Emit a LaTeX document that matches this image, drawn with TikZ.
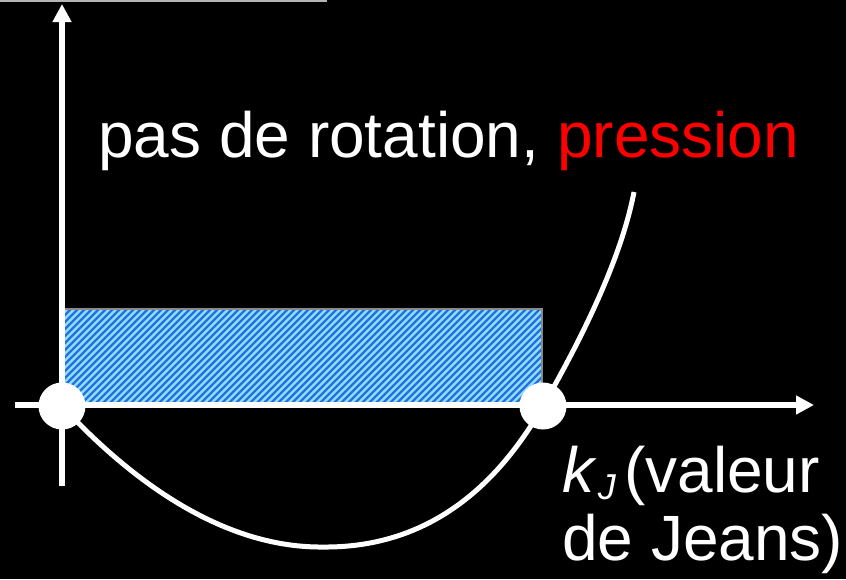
\documentclass[tikz,border=0pt]{standalone}
\usepackage{fontspec}
\setmainfont{Liberation Sans}
\usetikzlibrary{arrows.meta}
\definecolor{hatchcyan}{HTML}{86E2F5}
\definecolor{hatchblue}{HTML}{2E6BE0}
\definecolor{framegray}{HTML}{8A8A8A}
\definecolor{edgegray}{HTML}{B4B4B4}
\tikzset{
  axisline/.style={white, line width=5.5pt, -{Triangle[length=18pt,width=18pt]}},
  curveline/.style={white, line width=5pt},
  rootdot/.style={circle, fill=white, minimum size=47pt, inner sep=0pt},
  bigtext/.style={white, inner sep=0pt, font=\fontsize{64}{66}\selectfont},
}
\begin{document}
\begin{tikzpicture}[x=1pt,y=-1pt]
  \fill[black] (0,0) rectangle (846,579);
  \useasboundingbox (0,0) rectangle (846,579);
  % edge of a box at the top
  \draw[edgegray, line width=2pt] (0,1) -- (326,1) -- (326,0);
  % hatched rectangle
  \fill[hatchcyan] (62,309) rectangle (542,406);
  \begin{scope}
    \clip (62,309) rectangle (542,406);
    \foreach \i in {0,7,...,602} {
      \draw[hatchblue, line width=2.4pt] (\i-40,420) -- (\i+80,300);
    }
  \end{scope}
  \draw[framegray, line width=2pt] (62,309) -- (542,309) -- (542,406);
  % axes
  \coordinate (ybot) at (62,486);
  \coordinate (ytop) at (62,4);
  \coordinate (xleft) at (15,405);
  \coordinate (xright) at (814,405);
  \draw[axisline] (ybot) -- (ytop);
  \draw[axisline] (xleft) -- (xright);
  % curve
  \coordinate (r1) at (62,406);
  \coordinate (mn) at (323,547);
  \coordinate (r2) at (543,406);
  \coordinate (cend) at (634,192);
  \draw[curveline] (r1) .. controls (140,490) and (230,548) .. (mn)
                        .. controls (425,548) and (495,490) .. (r2)
                        .. controls (575,350) and (620,265) .. (cend);
  % roots
  \node[rootdot] (root1) at (r1) {};
  \node[rootdot] (root2) at (r2) {};
  % labels
  \node[bigtext, anchor=base west] (title) at (98,157)
    {pas de rotation, \textcolor{red}{pression}};
  \node[bigtext, anchor=base west] (kline) at (562,492)
    {\textit{k}\kern1pt\raisebox{-0.22ex}{\fontsize{36}{38}\selectfont\textit{J}}\kern8pt(valeur};
  \node[bigtext, anchor=base west] (jline) at (562,560)
    {de Jeans)};
\end{tikzpicture}
\end{document}
